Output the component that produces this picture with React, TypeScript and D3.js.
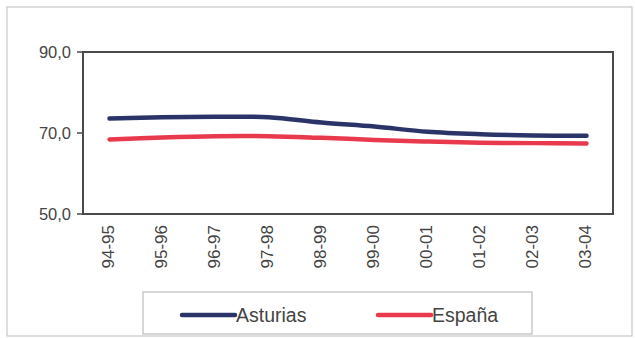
import React from "react";
import * as d3 from "d3";

const categories = ["94-95", "95-96", "96-97", "97-98", "98-99", "99-00", "00-01", "01-02", "02-03", "03-04"];
const asturias = [73.6, 73.9, 74.0, 73.9, 72.6, 71.6, 70.3, 69.7, 69.4, 69.3];
const espana = [68.4, 68.9, 69.2, 69.2, 68.8, 68.3, 67.9, 67.6, 67.5, 67.4];
const yTicks = [50, 70, 90];
const seriesNames = ["Asturias", "España"];
const colors = ["#2b3468", "#e83a4c"];

export default function App() {
  const W = 635, H = 338;
  const left = 83, right = 613, top = 52, bottom = 214;
  const x = d3.scaleBand<string>().domain(categories).range([left, right]);
  const y = d3.scaleLinear().domain([50, 90]).range([bottom, top]);
  const line = d3
    .line<number>()
    .x((_, i) => (x(categories[i]) as number) + x.bandwidth() / 2)
    .y((d) => y(d))
    .curve(d3.curveCatmullRom.alpha(0.5));
  const fmt = (v: number) => v.toFixed(1).replace(".", ",");
  const font = "Arial, 'Liberation Sans', sans-serif";
  const series = [asturias, espana];
  const legendItems = [
    { lx: 182, name: seriesNames[0], color: colors[0] },
    { lx: 378, name: seriesNames[1], color: colors[1] },
  ];
  return (
    <svg width={W} height={H} style={{ position: "absolute", left: 0, top: 0 }} fontFamily={font}>
      <rect x={0} y={0} width={W} height={H} fill="#ffffff" />
      <rect x={7} y={7} width={625} height={329} fill="none" stroke="#c8c8c8" strokeWidth={1.2} />
      <rect x={left} y={top} width={right - left} height={bottom - top} fill="none" stroke="#4a4a4a" strokeWidth={2} />
      {yTicks.map((t) => (
        <g key={t}>
          <line x1={left - 6} x2={left} y1={y(t)} y2={y(t)} stroke="#4a4a4a" strokeWidth={1.5} />
          <text x={71} y={y(t)} dy="0.35em" textAnchor="end" fontSize={16.5} fill="#444">
            {fmt(t)}
          </text>
        </g>
      ))}
      {categories.map((c) => {
        const cx = (x(c) as number) + x.bandwidth() / 2 - 1;
        return (
          <text
            key={c}
            transform={`translate(${cx},225) rotate(-90)`}
            textAnchor="end"
            dy="0.35em"
            fontSize={17}
            fill="#444"
          >
            {c}
          </text>
        );
      })}
      {series.map((s, i) => (
        <path key={i} d={line(s) || ""} fill="none" stroke={colors[i]} strokeWidth={4.5} strokeLinecap="round" />
      ))}
      <rect x={143} y={292} width={389} height={42} fill="#fff" stroke="#bdbdbd" strokeWidth={1.2} />
      {legendItems.map((it) => (
        <g key={it.name}>
          <line x1={it.lx} x2={it.lx + 53} y1={315} y2={315} stroke={it.color} strokeWidth={4.5} strokeLinecap="round" />
          <text x={it.lx + 54} y={315} dy="0.35em" fontSize={19.5} fill="#444">
            {it.name}
          </text>
        </g>
      ))}
    </svg>
  );
}
